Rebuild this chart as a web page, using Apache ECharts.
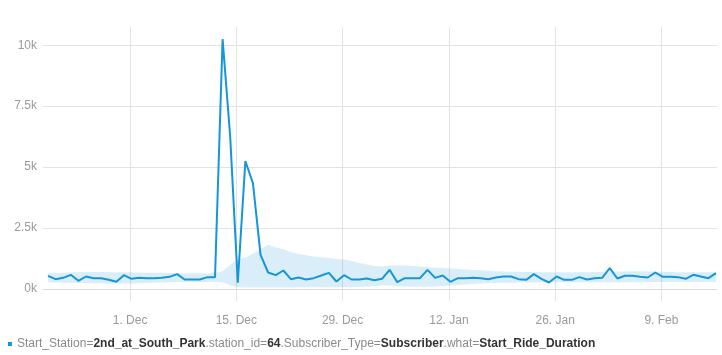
<!DOCTYPE html>
<html>
<head>
<meta charset="utf-8">
<script src="https://cdn.jsdelivr.net/npm/echarts@6/dist/echarts.min.js"></script>
<style>
html,body{margin:0;padding:0;background:#fff;}
#chart{width:722px;height:355px;}
</style>
</head>
<body>
<div id="chart"></div>
<script>
// ---- data ----
const startDate = '2013-11-20';
const values = [534,397,451,575,328,506,438,438,369,287,561,410,451,438,438,451,492,602,383,383,383,479,479,
  10250,6250,250,5250,4330,1390,670,561,752,397,465,383,438,547,657,301,561,383,383,424,356,
  410,780,274,438,438,438,780,451,547,287,438,438,451,438,397,465,506,506,397,369,602,410,260,506,369,369,479,383,438,451,848,424,534,534,492,465,670,492,492,480,410,575,506,438,643];
const upper = [640,650,660,670,680,690,690,690,685,680,680,675,670,665,660,655,650,645,640,640,640,640,650,
  720,980,1200,1290,1440,1620,1810,1700,1630,1500,1430,1380,1330,1300,1270,1220,1200,1140,1060,1000,950,
  920,950,970,960,940,910,890,870,850,830,810,790,770,760,740,725,715,705,700,690,690,685,680,680,680,680,680,685,690,700,705,710,715,720,720,715,710,700,690,685,680,680,680,680,680];
const lower = [260,255,250,245,240,235,230,225,220,215,215,220,225,235,245,255,265,275,280,285,285,285,280,
  270,150,60,50,50,50,50,55,55,55,60,60,60,60,65,65,70,75,80,90,110,
  150,140,110,100,90,85,85,100,120,140,160,180,200,215,230,240,245,250,255,260,260,265,270,270,270,270,270,270,270,270,270,270,270,270,270,270,275,275,280,280,280,280,280,280,280];
const xTicks = ['2013-12-01','2013-12-15','2013-12-29','2014-01-12','2014-01-26','2014-02-09'];
const yTicks = [0,2500,5000,7500,10000];
const monthNames = ['Jan','Feb','Mar','Apr','May','Jun','Jul','Aug','Sep','Oct','Nov','Dec'];
const legendParts = [['Start_Station=','n'],['2nd_at_South_Park','b'],['.station_id=','n'],['64','b'],
  ['.Subscriber_Type=','n'],['Subscriber','b'],['.what=','n'],['Start_Ride_Duration','b']];
const seriesName = legendParts.map(p => p[0]).join('');

// ---- build ----
const DAY = 86400000;
const pointOffset = 0.19 * DAY;
const t0 = Date.parse(startDate + 'T00:00:00Z') + pointOffset;
const ts = values.map((v, i) => t0 + i * DAY);
const mainData = values.map((v, i) => [ts[i], v]);
const bandData = ts.map((t, i) => [t, lower[i], upper[i]]);
const xTickVals = xTicks.map(d => Date.parse(d + 'T00:00:00Z'));

const font = "'Liberation Sans', Arial, Helvetica, sans-serif";
const chart = echarts.init(document.getElementById('chart'));
chart.setOption({
  animation: false,
  grid: {left: 43, right: 5, top: 27, bottom: 54, containLabel: false},
  xAxis: {
    type: 'value',
    min: ts[0] - 0.66 * DAY,
    max: ts[ts.length - 1] + 0.13 * DAY,
    axisLine: {show: true, lineStyle: {color: '#dcdcdc', width: 1}},
    axisTick: {show: false, customValues: xTickVals},
    splitLine: {show: true, lineStyle: {color: '#e3e3e3', width: 1}},
    axisLabel: {
      customValues: xTickVals,
      color: '#9a9a9a', fontFamily: font, fontSize: 12, margin: 14,
      formatter: function (v) {
        const d = new Date(v);
        return d.getUTCDate() + '. ' + monthNames[d.getUTCMonth()];
      }
    }
  },
  yAxis: {
    type: 'value',
    min: -500,
    max: 10750,
    axisLine: {show: false},
    axisTick: {show: false, customValues: yTicks},
    splitLine: {show: true, lineStyle: {color: '#e3e3e3', width: 1}},
    axisLabel: {
      customValues: yTicks,
      color: '#9a9a9a', fontFamily: font, fontSize: 12, margin: 6,
      formatter: function (v) { return (v / 1000) + 'k'; }
    }
  },
  legend: {
    left: 8, top: 338, padding: 0,
    icon: 'rect', itemWidth: 4, itemHeight: 4, itemGap: 4,
    data: [seriesName],
    formatter: function () {
      return legendParts.map(p => '{' + p[1] + '|' + p[0] + '}').join('');
    },
    textStyle: {
      fontFamily: font, fontSize: 12,
      rich: {
        n: {color: '#8a8a8a', fontFamily: font, fontSize: 12},
        b: {color: '#333333', fontFamily: font, fontSize: 12, fontWeight: 'bold'}
      }
    }
  },
  series: [
    {
      name: 'band', type: 'custom', data: bandData, silent: true,
      encode: {x: 0, y: [1, 2]},
      renderItem: function (params, api) {
        if (params.dataIndex !== 0) return null;
        const top = bandData.map(d => api.coord([d[0], d[2]]));
        const bottom = bandData.map(d => api.coord([d[0], d[1]])).reverse();
        return {
          type: 'polygon',
          shape: {points: top.concat(bottom)},
          style: {fill: 'rgba(21,150,216,0.16)'}
        };
      }
    },
    {
      name: seriesName, type: 'line', data: mainData, symbol: 'none',
      itemStyle: {color: '#1596d8'},
      lineStyle: {color: '#1596d8', width: 2}
    }
  ]
});
</script>
</body>
</html>
